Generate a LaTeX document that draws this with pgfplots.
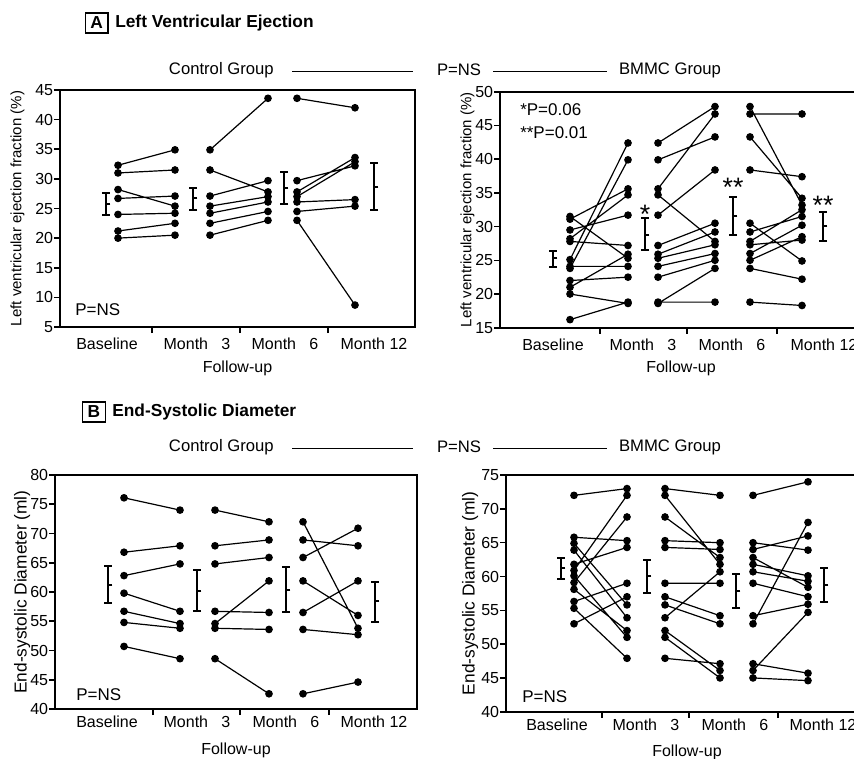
\documentclass[border=0pt]{standalone}
\usepackage{fontspec}
\setmainfont{Liberation Sans}
\usepackage{pgfplots}
\pgfplotsset{compat=1.18}

\newcommand\fs[1]{\fontsize{#1}{#1}\selectfont}

\pgfplotsset{
  panel/.style={
    scale only axis, anchor=south west, clip=false,
    xmin=0, xmax=362,
    axis line style={line width=1.4pt},
    tick align=outside, major tick length=4.5pt,
    tick style={line width=1.2pt, black},
    tick pos=left,
    xticklabels={,,},
    extra x tick labels={Baseline, Month \hphantom{1}3, Month \hphantom{1}6, Month 12},
    extra x tick style={major tick length=0pt},
    tick label style={font=\fs{12}},
    yticklabel style={inner sep=0.5pt},
    /pgf/number format/assume math mode=true,
    xlabel={Follow-up},
    xlabel style={font=\fs{12}, anchor=center},
    ylabel style={anchor=center},
    unbounded coords=jump,
  },
  seg/.style={black, line width=0.9pt, mark=*, mark size=2.4pt},
  eb/.style={draw=none, mark=none,
    error bars/.cd, y dir=both, y explicit,
    error bar style={draw=black, line width=1.5pt},
    error mark options={rotate=90, mark size=3pt, line width=1.5pt, draw=black}},
  mn/.style={only marks, mark=-, mark size=1.6pt,
    mark options={xshift=1.6pt, line width=1.5pt, draw=black}},
}
\tikzset{txt/.style={anchor=west, inner sep=0pt, font=\fs{12.75}}}

\begin{document}
\begin{tikzpicture}
\useasboundingbox (0,0) rectangle (640.5pt,-569.25pt);

% ---- headers
\node[draw, line width=1pt, minimum width=17pt, minimum height=15pt, inner sep=0pt,
  font=\fs{13}\bfseries] at (72.4pt,-17.25pt) {A};
\node[anchor=west, inner sep=0pt, font=\fs{13}\bfseries] at (86.25pt,-17.25pt) {Left Ventricular Ejection};
\node[draw, line width=1pt, minimum width=17pt, minimum height=15pt, inner sep=0pt,
  font=\fs{13}\bfseries] at (70.5pt,-309pt) {B};
\node[anchor=west, inner sep=0pt, font=\fs{13}\bfseries] at (84pt,-309pt) {End-Systolic Diameter};

\foreach \yy in {-52.5pt,-335.25pt}{
  \node[font=\fs{12.5}] at (166pt,\yy) {Control Group};
  \draw[line width=0.8pt] (219pt,\yy-1pt) -- (309.75pt,\yy-1pt);
  \node[font=\fs{12.5}] at (344.25pt,\yy) {P=NS};
  \draw[line width=0.8pt] (369.75pt,\yy-1pt) -- (455.25pt,\yy-1pt);
  \node[font=\fs{12.5}] at (502.5pt,\yy) {BMMC Group};
}

% ---- A, control group
\begin{axis}[panel, at={(45pt,-245.25pt)}, width=266.25pt, height=177.75pt,
  xmax=355, ymin=5, ymax=45, ytick={5,10,...,45},
  xtick={92,180,268}, extra x ticks={47,137,225,314},
  xticklabel style={anchor=center, yshift=-12.75pt},
  xlabel style={at={(axis description cs:0.5,-0.173)}},
  ylabel={Left ventricular ejection fraction (\%)},
  ylabel style={font=\fs{11.25}, at={(axis description cs:-0.12,0.5)}}]
\addplot[seg] coordinates {(58,32.3)(115,34.9)(58,nan)(58,31.0)(115,31.5)(58,nan)(58,28.2)(115,25.4)(58,nan)(58,26.7)(115,27.1)(58,nan)(58,24.0)(115,24.2)(58,nan)(58,21.2)(115,22.5)(58,nan)(58,20.0)(115,20.5)};
\addplot[seg] coordinates {(150,34.9)(208,43.6)(150,nan)(150,31.5)(208,27.8)(150,nan)(150,27.1)(208,29.7)(150,nan)(150,25.4)(208,27.0)(150,nan)(150,24.2)(208,26.1)(150,nan)(150,22.5)(208,24.5)(150,nan)(150,20.5)(208,23.0)};
\addplot[seg] coordinates {(237,43.6)(295,42.0)(237,nan)(237,29.7)(295,32.2)(237,nan)(237,27.8)(295,33.6)(237,nan)(237,27.0)(295,32.9)(237,nan)(237,26.1)(295,26.5)(237,nan)(237,24.5)(295,25.4)(237,nan)(237,23.0)(295,8.7)};
\addplot[eb] coordinates {(46,25.8) += (0,1.8) -= (0,1.9) (133,26.7) += (0,1.8) -= (0,2.0) (224,28.5) += (0,2.7) -= (0,2.8) (314,28.7) += (0,4.0) -= (0,4.0)};
\addplot[mn] coordinates {(46,25.8)(133,26.7)(224,28.5)(314,28.7)};
\node[txt] at (axis cs:15,7.9) {P=NS};
\end{axis}

% ---- A, BMMC group
\begin{axis}[panel, at={(375pt,-245.8pt)}, width=271.5pt, height=177pt,
  ymin=15, ymax=50, ytick={15,20,...,50},
  xtick={100,187,277}, extra x ticks={53,143,232,324},
  xticklabel style={anchor=center, yshift=-12.75pt},
  xlabel style={at={(axis description cs:0.5,-0.171)}},
  ylabel={Left ventricular ejection fraction (\%)},
  ylabel style={font=\fs{11.25}, at={(axis description cs:-0.09,0.5)}}]
\addplot[seg] coordinates {(70,31.5)(128,25.3)(70,nan)(70,31.1)(128,35.6)(70,nan)(70,29.5)(128,31.7)(70,nan)(70,28.2)(128,34.7)(70,nan)(70,27.8)(128,27.2)(70,nan)(70,25.1)(128,42.4)(70,nan)(70,24.1)(128,24.1)(70,nan)(70,23.8)(128,39.9)(70,nan)(70,22.0)(128,22.5)(70,nan)(70,21.0)(128,25.9)(70,nan)(70,20.0)(128,18.6)(70,nan)(70,16.2)(128,18.8)};
\addplot[seg] coordinates {(158,42.4)(215,47.8)(158,nan)(158,39.9)(215,43.3)(158,nan)(158,35.6)(215,46.7)(158,nan)(158,31.7)(215,38.4)(158,nan)(158,34.7)(215,27.8)(158,nan)(158,27.2)(215,30.5)(158,nan)(158,25.9)(215,29.2)(158,nan)(158,25.3)(215,27.3)(158,nan)(158,24.1)(215,26.0)(158,nan)(158,22.5)(215,25.0)(158,nan)(158,18.6)(215,23.8)(158,nan)(158,18.8)(215,18.8)};
\addplot[seg] coordinates {(250,47.8)(302,33.2)(250,nan)(250,46.7)(302,46.7)(250,nan)(250,43.3)(302,34.2)(250,nan)(250,38.4)(302,37.4)(250,nan)(250,30.5)(302,24.9)(250,nan)(250,29.2)(302,31.5)(250,nan)(250,27.8)(302,32.5)(250,nan)(250,27.3)(302,28.0)(250,nan)(250,26.0)(302,30.2)(250,nan)(250,25.0)(302,28.5)(250,nan)(250,23.8)(302,22.2)(250,nan)(250,18.8)(302,18.3)};
\addplot[eb] coordinates {(53,25.3) += (0,1.1) -= (0,1.3) (145,28.7) += (0,2.5) -= (0,2.2) (233,31.5) += (0,2.9) -= (0,2.8) (323,30.1) += (0,2.0) -= (0,2.2)};
\addplot[mn] coordinates {(53,25.3)(145,28.7)(233,31.5)(323,30.1)};
\node[txt] at (axis cs:20,47.3) {*P=0.06};
\node[txt] at (axis cs:20,44.0) {**P=0.01};
\node[anchor=north, inner sep=0pt, font=\fs{20}] at (axis cs:145,33.2) {*};
\node[anchor=north, inner sep=0pt, font=\fs{20}] at (axis cs:233,37.2) {**};
\node[anchor=north, inner sep=0pt, font=\fs{20}] at (axis cs:323,34.6) {**};
\end{axis}

% ---- B, control group
\begin{axis}[panel, at={(41.25pt,-531.75pt)}, width=271.5pt, height=175.5pt,
  ymin=40, ymax=80, ytick={40,45,...,80},
  xtick={98,185,274}, extra x ticks={52,142,231,319},
  xticklabel style={anchor=center, yshift=-9.75pt},
  xlabel style={at={(axis description cs:0.5,-0.175)}},
  ylabel={End-systolic Diameter (ml)},
  ylabel style={font=\fs{13}, at={(axis description cs:-0.091,0.5)}}]
\addplot[seg] coordinates {(69,76.1)(125,74.0)(69,nan)(69,66.8)(125,67.9)(69,nan)(69,62.8)(125,64.8)(69,nan)(69,59.8)(125,56.7)(69,nan)(69,56.7)(125,54.6)(69,nan)(69,54.8)(125,53.8)(69,nan)(69,50.7)(125,48.6)};
\addplot[seg] coordinates {(160,74.0)(214,72.0)(160,nan)(160,67.9)(214,68.9)(160,nan)(160,64.8)(214,65.9)(160,nan)(160,56.7)(214,56.5)(160,nan)(160,54.6)(214,61.9)(160,nan)(160,53.8)(214,53.6)(160,nan)(160,48.6)(214,42.6)};
\addplot[seg] coordinates {(248,72.0)(303,53.8)(248,nan)(248,68.9)(303,67.9)(248,nan)(248,65.9)(303,70.9)(248,nan)(248,61.9)(303,56.0)(248,nan)(248,56.5)(303,61.9)(248,nan)(248,53.6)(303,52.7)(248,nan)(248,42.6)(303,44.6)};
\addplot[eb] coordinates {(53,61.2) += (0,3.3) -= (0,3.1) (142,60.2) += (0,3.5) -= (0,3.5) (231,60.4) += (0,3.8) -= (0,3.8) (320,58.4) += (0,3.3) -= (0,3.6)};
\addplot[mn] coordinates {(53,61.2)(142,60.2)(231,60.4)(320,58.4)};
\node[txt] at (axis cs:21,42.4) {P=NS};
\end{axis}

% ---- B, BMMC group
\begin{axis}[panel, at={(379.5pt,-533.8pt)}, width=271.5pt, height=177.5pt,
  ymin=40, ymax=75, ytick={40,45,...,75},
  xtick={96,183,272}, extra x ticks={51,140,229,317},
  xticklabel style={anchor=center, yshift=-9.75pt},
  xlabel style={at={(axis description cs:0.5,-0.17)}},
  ylabel={End-systolic Diameter (ml)},
  ylabel style={font=\fs{13}, at={(axis description cs:-0.099,0.5)}}]
\addplot[seg] coordinates {(68,72.0)(121,73.0)(68,nan)(68,65.8)(121,65.3)(68,nan)(68,64.9)(121,55.8)(68,nan)(68,63.9)(121,53.9)(68,nan)(68,61.8)(121,64.3)(68,nan)(68,60.9)(121,72.0)(68,nan)(68,60.1)(121,51.0)(68,nan)(68,59.1)(121,68.8)(68,nan)(68,58.1)(121,52.0)(68,nan)(68,56.3)(121,59.0)(68,nan)(68,55.3)(121,47.9)(68,nan)(68,53.0)(121,57.0)};
\addplot[seg] coordinates {(159,73.0)(214,72.0)(159,nan)(159,72.0)(214,61.8)(159,nan)(159,68.8)(214,62.8)(159,nan)(159,65.3)(214,65.0)(159,nan)(159,64.3)(214,64.0)(159,nan)(159,59.0)(214,59.0)(159,nan)(159,57.0)(214,54.2)(159,nan)(159,55.8)(214,53.0)(159,nan)(159,53.9)(214,60.7)(159,nan)(159,52.0)(214,46.1)(159,nan)(159,51.0)(214,45.0)(159,nan)(159,47.9)(214,47.1)};
\addplot[seg] coordinates {(247,72.0)(302,74.0)(247,nan)(247,65.0)(302,63.9)(247,nan)(247,64.0)(302,66.0)(247,nan)(247,62.8)(302,58.4)(247,nan)(247,61.8)(302,60.1)(247,nan)(247,60.7)(302,59.3)(247,nan)(247,59.0)(302,57.0)(247,nan)(247,54.2)(302,55.9)(247,nan)(247,53.0)(302,68.0)(247,nan)(247,47.1)(302,45.7)(247,nan)(247,46.1)(302,54.7)(247,nan)(247,45.0)(302,44.6)};
\addplot[eb] coordinates {(55,61.3) += (0,1.4) -= (0,1.6) (141,60.1) += (0,2.4) -= (0,2.5) (230,57.9) += (0,2.5) -= (0,2.6) (318,58.8) += (0,2.4) -= (0,2.5)};
\addplot[mn] coordinates {(55,61.3)(141,60.1)(230,57.9)(318,58.8)};
\node[txt] at (axis cs:16,42.2) {P=NS};
\end{axis}
\end{tikzpicture}
\end{document}
